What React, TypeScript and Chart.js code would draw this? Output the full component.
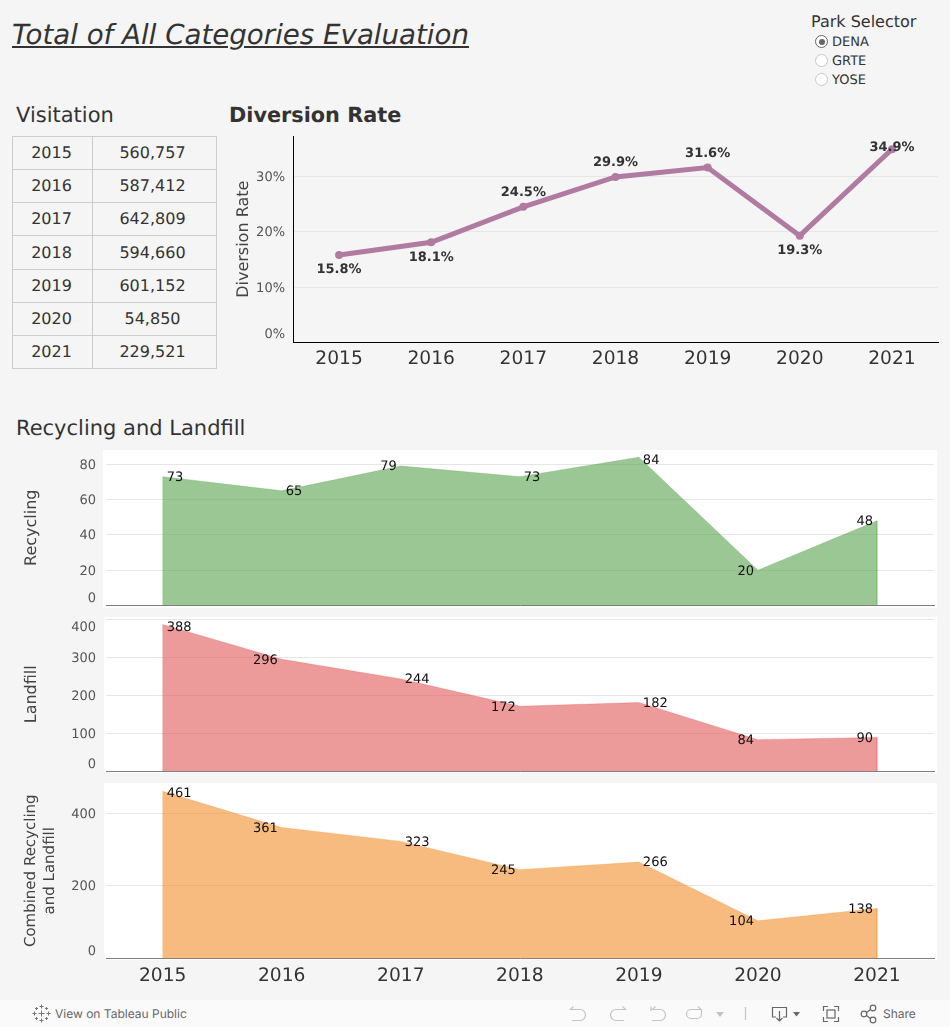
import React, { useEffect, useRef } from "react";
import { Chart, registerables } from "chart.js";

Chart.register(...registerables);

const FONT = '"DejaVu Sans", sans-serif';
const TOOLBAR_FONT = 'Inter, sans-serif';

const years = [2015, 2016, 2017, 2018, 2019, 2020, 2021];
const yearLabels = ["2015", "2016", "2017", "2018", "2019", "2020", "2021"];
const visitation = ["560,757", "587,412", "642,809", "594,660", "601,152", "54,850", "229,521"];
const diversionRate = [15.8, 18.1, 24.5, 29.9, 31.6, 19.3, 34.9];
const recycling = [73, 65, 79, 73, 84, 20, 48];
const landfill = [388, 296, 244, 172, 182, 84, 90];
const combined = [461, 361, 323, 245, 266, 104, 138];
const parks = ["DENA", "GRTE", "YOSE"];

const diversionTicks = [0, 10, 20, 30];
const recyclingTicks = [0, 20, 40, 60, 80];
const landfillTicks = [0, 100, 200, 300, 400];
const combinedTicks = [0, 200, 400];

const diversionLabelAbove = [false, false, true, true, true, false, true];
const recyclingLabelRight = [true, true, false, true, true, false, false];
const landfillLabelRight = [true, false, true, false, true, false, false];
const combinedLabelRight = [true, false, true, false, true, false, false];

const rowEdges = [136, 169, 202, 235, 269, 302, 335, 368];

const preciseText = {
  id: "preciseText",
  beforeDraw(chart: any) {
    chart.ctx.textRendering = "geometricPrecision";
  },
};

const dropScalePadding = (s: any) => {
  s.paddingTop = 0;
  s.paddingBottom = 0;
  s.paddingLeft = 0;
  s.paddingRight = 0;
};

const fixedTicks = (values: number[]) => (s: any) => {
  s.ticks = values.map((value) => ({ value }));
};

function DiversionChart() {
  const ref = useRef<HTMLCanvasElement>(null);
  useEffect(() => {
    const labelPlugin = {
      id: "diversionLabels",
      afterDatasetsDraw(chart: any) {
        const { ctx, scales, chartArea } = chart;
        ctx.save();
        ctx.font = `bold 13px ${FONT}`;
        ctx.fillStyle = "#333333";
        ctx.textAlign = "center";
        ctx.textBaseline = "middle";
        diversionRate.forEach((v, i) => {
          const x = scales.x.getPixelForValue(i);
          const y = scales.y.getPixelForValue(v) + (diversionLabelAbove[i] ? -14 : 15);
          ctx.fillText(v.toFixed(1) + "%", x, Math.max(y, chartArea.top + 11.5));
        });
        ctx.restore();
      },
    };
    const chart = new Chart(ref.current!, {
      type: "line",
      data: {
        labels: yearLabels,
        datasets: [
          {
            data: diversionRate,
            borderColor: "#b07aa1",
            backgroundColor: "#b07aa1",
            borderWidth: 5,
            pointRadius: 4,
            pointBorderWidth: 0,
            fill: false,
            tension: 0,
            clip: false,
          },
        ],
      },
      options: {
        animation: false,
        responsive: false,
        layout: { autoPadding: false, padding: { top: 11, right: 12, bottom: 0, left: 0 } },
        plugins: { legend: { display: false }, tooltip: { enabled: false } },
        scales: {
          x: {
            offset: true,
            grid: { display: false, drawTicks: false },
            border: { color: "#000000", width: 1 },
            ticks: { color: "#333333", font: { family: FONT, size: 18.67 }, padding: 5, maxRotation: 0, autoSkip: false },
            afterFit: (s: any) => { dropScalePadding(s); s.height = 37.5; },
          },
          y: {
            min: 0,
            max: 37.3,
            grid: { color: "#e6e6e6", drawTicks: false },
            border: { color: "#000000", width: 1 },
            title: {
              display: true,
              text: "Diversion Rate",
              color: "#444444",
              font: { family: FONT, size: 16 },
              padding: { top: 9.4, bottom: 0 },
            },
            afterBuildTicks: fixedTicks(diversionTicks),
            ticks: {
              autoSkip: false,
              color: "#555555",
              padding: 8,
              labelOffset: 1,
              font: (c: any) => ({ family: FONT, size: 13, lineHeight: c.tick && c.tick.value === 0 ? "18px" : 1.2 }),
              callback: (v: any) => (v === 0 ? ["0%", ""] : v + "%"),
            },
            afterFit: (s: any) => { dropScalePadding(s); s.width = 68; },
          },
        },
      },
      plugins: [preciseText, labelPlugin],
    } as any);
    return () => chart.destroy();
  }, []);
  return <canvas ref={ref} width={725} height={255} style={{ position: "absolute", left: 225, top: 125 }} />;
}

type PanelProps = {
  top: number;
  height: number;
  plotBottomGap: number;
  values: number[];
  rightSide: boolean[];
  yMax: number;
  yTicks: number[];
  colour: string;
  edge: string;
  title: string | string[];
  titleSize: number;
  titleLine: string;
  titlePad: number;
  showYears?: boolean;
  topTick?: number;
  bottomShift: string;
  topShift?: string;
};

function AreaPanel(p: PanelProps) {
  const ref = useRef<HTMLCanvasElement>(null);
  useEffect(() => {
    const labelPlugin = {
      id: "areaLabels",
      afterDatasetsDraw(chart: any) {
        const { ctx, scales, chartArea } = chart;
        ctx.save();
        ctx.font = `13px ${FONT}`;
        ctx.fillStyle = "#111111";
        ctx.textBaseline = "middle";
        p.values.forEach((v, i) => {
          const x = scales.x.getPixelForValue(years[i]);
          const y = scales.y.getPixelForValue(v) + 1;
          ctx.textAlign = p.rightSide[i] ? "left" : "right";
          ctx.fillText(String(v), x + (p.rightSide[i] ? 4 : -4), Math.max(y, chartArea.top + 11));
        });
        ctx.restore();
      },
    };
    const outline = [
      { x: years[0], y: 0 },
      ...p.values.map((v, i) => ({ x: years[i], y: v })),
      { x: years[years.length - 1], y: 0 },
    ];
    const chart = new Chart(ref.current!, {
      type: "line",
      data: {
        datasets: [
          {
            data: outline,
            borderColor: p.edge,
            backgroundColor: p.colour,
            borderWidth: 1,
            pointRadius: 0,
            fill: "origin",
            tension: 0,
          },
        ],
      },
      options: {
        animation: false,
        responsive: false,
        layout: { autoPadding: false, padding: { top: 0, right: 16, bottom: 0, left: 0 } },
        plugins: { legend: { display: false }, tooltip: { enabled: false } },
        scales: {
          x: {
            type: "linear",
            min: 2014.524,
            max: 2021.479,
            grid: { display: false, drawTicks: false },
            border: { color: "#808080", width: 1 },
            afterBuildTicks: fixedTicks(years),
            ticks: {
              display: !!p.showYears,
              autoSkip: false,
              maxRotation: 0,
              padding: 6,
              color: "#333333",
              font: { family: FONT, size: 18.67 },
              callback: (v: any) => yearLabels[years.indexOf(v)] ?? "",
            },
            afterFit: (s: any) => { dropScalePadding(s); s.height = p.plotBottomGap; },
          },
          y: {
            min: 0,
            max: p.yMax,
            grid: { color: "#e6e6e6", drawTicks: false },
            border: { display: false },
            title: {
              display: true,
              text: p.title,
              color: "#444444",
              font: { family: FONT, size: p.titleSize, lineHeight: p.titleLine },
              padding: { top: p.titlePad, bottom: 0 },
            },
            afterBuildTicks: fixedTicks(p.yTicks),
            ticks: {
              autoSkip: false,
              color: "#555555",
              padding: 10,
              labelOffset: 1,
              font: (c: any) => {
                const v = c.tick && c.tick.value;
                const lh = v === 0 ? p.bottomShift : p.topTick !== undefined && v === p.topTick && p.topShift ? p.topShift : 1.2;
                return { family: FONT, size: 13, lineHeight: lh };
              },
              callback: (v: any) => {
                if (v === 0) return ["0", ""];
                if (p.topTick !== undefined && v === p.topTick && p.topShift) return ["", String(v)];
                return String(v);
              },
            },
            afterFit: (s: any) => { dropScalePadding(s); s.width = 106; },
          },
        },
      },
      plugins: [preciseText, labelPlugin],
    } as any);
    return () => chart.destroy();
  }, []);
  return <canvas ref={ref} width={950} height={p.height} style={{ position: "absolute", left: 0, top: p.top }} />;
}

const abs = (left: number, top: number, extra: React.CSSProperties = {}): React.CSSProperties => ({
  position: "absolute",
  left,
  top,
  whiteSpace: "nowrap",
  fontFamily: FONT,
  color: "#333333",
  ...extra,
});

const panel = (left: number, top: number, w: number, h: number) => (
  <div style={{ position: "absolute", left, top, width: w, height: h, background: "#ffffff" }} />
);

function Toolbar() {
  const faint = "#c4c4c4";
  const dark = "#666666";
  return (
    <div style={{ position: "absolute", left: 0, top: 1000, width: 950, height: 27, background: "#fafafa" }}>
      <svg width={950} height={27} style={{ position: "absolute", left: 0, top: 0 }} fill="none">
        <g stroke="#777" strokeWidth="1">
          {[[41.5, 13.5, 3], [41.5, 6.5, 2], [41.5, 20.5, 2], [34.5, 13.5, 2], [48.5, 13.5, 2], [36.5, 8.5, 1.5], [46.5, 8.5, 1.5], [36.5, 18.5, 1.5], [46.5, 18.5, 1.5]].map(([x, y, r], i) => (
            <path key={i} d={`M${x - r} ${y}H${x + r}M${x} ${y - r}V${y + r}`} />
          ))}
        </g>
        <g stroke={faint} strokeWidth="1.2">
          <path d="M571 9.5H580a5.5 5.5 0 0 1 0 11H572M573.5 6.5L570.5 9.5L573.5 9.5" />
          <path d="M625 9.5H616a5.5 5.5 0 0 0 0 11H624M622.5 6.5L625.5 9.5L622.5 9.5" />
          <path d="M651 6.5V11M653 9.5H660a5.5 5.5 0 0 1 0 11H652M655.5 6.5L652.5 9.5L655.5 9.5" />
          <path d="M700 9.5H691a4.5 4.5 0 0 0 0 9H697a4.5 4.5 0 0 0 4.5-4.5V9.5M698 6.5L701 9.5L698 9.5" />
          <path d="M745.5 7V20" />
        </g>
        <path d="M716 12H724L720 17Z" fill={faint} />
        <g stroke={dark} strokeWidth="1.2">
          <path d="M776 17H772.5V7.5H786.5V17H783M779.5 11V21M776.5 18L779.5 21L782.5 18" />
          <path d="M823.5 11V6.5H828M834 6.5H838.5V11M838.5 17V21.5H834M828 21.5H823.5V17" />
          <rect x="827" y="10" width="8" height="8" />
          <circle cx="864" cy="14" r="2.8" />
          <circle cx="873" cy="8" r="2.8" />
          <circle cx="873" cy="20" r="2.8" />
          <path d="M866.5 12.5L870.5 9.5M866.5 15.5L870.5 18.5" />
        </g>
        <path d="M793 12H800L796.5 16.5Z" fill={dark} />
      </svg>
      <div style={abs(55, 6, { fontFamily: TOOLBAR_FONT, fontSize: 12, lineHeight: "15px", color: "#666666" })}>View on Tableau Public</div>
      <div style={abs(883, 6, { fontFamily: TOOLBAR_FONT, fontSize: 12, lineHeight: "15px", color: "#666666" })}>Share</div>
    </div>
  );
}

export default function App() {
  useEffect(() => {
    document.body.style.margin = "0";
    document.body.style.background = "#f5f5f5";
  }, []);
  return (
    <div style={{ position: "relative", width: 950, height: 1027, background: "#f5f5f5", overflow: "hidden", textRendering: "geometricPrecision" }}>
      <div style={abs(12, 16, { fontSize: 27.67, lineHeight: "38px", fontStyle: "italic", textDecoration: "underline" })}>
        Total of All Categories Evaluation
      </div>

      <div style={abs(811, 12, { fontSize: 16, lineHeight: "20px" })}>Park Selector</div>
      {parks.map((name, i) => (
        <React.Fragment key={name}>
          <div
            style={{
              position: "absolute",
              left: 815,
              top: 35 + i * 19,
              width: 11,
              height: 11,
              borderRadius: "50%",
              border: `1px solid ${i === 0 ? "#666666" : "#c8c8c8"}`,
              background: "#ffffff",
            }}
          />
          {i === 0 && (
            <div style={{ position: "absolute", left: 818.5, top: 38.5, width: 6, height: 6, borderRadius: "50%", background: "#666666" }} />
          )}
          <div style={abs(832, 34 + i * 19, { fontSize: 13, lineHeight: "17px" })}>{name}</div>
        </React.Fragment>
      ))}

      <div style={abs(16, 101, { fontSize: 21, lineHeight: "28px" })}>Visitation</div>
      <div style={abs(229, 101, { fontSize: 20.8, lineHeight: "28px", fontWeight: 700 })}>Diversion Rate</div>
      <div style={abs(16, 414, { fontSize: 21, lineHeight: "28px" })}>Recycling and Landfill</div>

      <div style={{ position: "absolute", left: 12, top: 136, width: 205, height: 233, boxSizing: "border-box", border: "1px solid #cccccc" }} />
      <div style={{ position: "absolute", left: 92, top: 136, width: 1, height: 233, background: "#cccccc" }} />
      {years.map((_, i) => (
        <React.Fragment key={i}>
          {i > 0 && <div style={{ position: "absolute", left: 12, top: rowEdges[i], width: 205, height: 1, background: "#cccccc" }} />}
          <div style={abs(13, rowEdges[i] + 1, { width: 77, textAlign: "center", fontSize: 16, lineHeight: `${rowEdges[i + 1] - rowEdges[i] - 1}px` })}>
            {yearLabels[i]}
          </div>
          <div style={abs(93, rowEdges[i] + 1, { width: 119, textAlign: "center", fontSize: 16, lineHeight: `${rowEdges[i + 1] - rowEdges[i] - 1}px` })}>
            {visitation[i]}
          </div>
        </React.Fragment>
      ))}

      <DiversionChart />

      {panel(103, 450, 834, 158)}
      {panel(104, 617, 833, 156)}
      {panel(104, 783, 833, 177)}

      <AreaPanel
        top={450}
        height={156}
        plotBottomGap={0.5}
        values={recycling}
        rightSide={recyclingLabelRight}
        yMax={88.1}
        yTicks={recyclingTicks}
        colour="rgba(89,161,79,0.6)"
        edge="rgba(89,161,79,0.3)"
        title="Recycling"
        titleSize={16}
        titleLine="19px"
        titlePad={22.4}
        bottomShift="16px"
      />
      <AreaPanel
        top={617}
        height={155}
        plotBottomGap={0.5}
        values={landfill}
        rightSide={landfillLabelRight}
        yMax={407.6}
        yTicks={landfillTicks}
        colour="rgba(225,87,89,0.6)"
        edge="rgba(225,87,89,0.3)"
        title="Landfill"
        titleSize={16}
        titleLine="19px"
        titlePad={22.4}
        topTick={400}
        topShift="14px"
        bottomShift="16px"
      />
      <AreaPanel
        top={783}
        height={217}
        plotBottomGap={41.5}
        values={combined}
        rightSide={combinedLabelRight}
        yMax={484}
        yTicks={combinedTicks}
        colour="rgba(242,142,43,0.6)"
        edge="rgba(242,142,43,0.3)"
        title={["Combined Recycling", "and Landfill"]}
        titleSize={15}
        titleLine="19px"
        titlePad={21.4}
        showYears
        bottomShift="16px"
      />

      <Toolbar />
    </div>
  );
}
